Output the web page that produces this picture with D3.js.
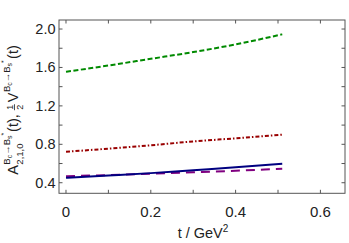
<!DOCTYPE html>
<html>
<head>
<meta charset="utf-8">
<script src="https://cdn.jsdelivr.net/npm/d3@7"></script>
<style>
  body { margin: 0; background: #fff; }
  text { font-family: "Liberation Sans", Arial, sans-serif; fill: #222; }
</style>
</head>
<body>
<div id="chart"></div>
<script>
// values
var tVals = [0, 0.1, 0.2, 0.3, 0.4, 0.51];
var greenVals = [1.555, 1.62, 1.69, 1.76, 1.84, 1.945];
var redVals = [0.722, 0.755, 0.79, 0.83, 0.862, 0.90];
var blueVals = [0.451, 0.475, 0.50, 0.53, 0.56, 0.597];
var purpleVals = [0.468, 0.48, 0.494, 0.509, 0.525, 0.545];
var xTicks = [0, 0.1, 0.2, 0.3, 0.4, 0.5, 0.6];
var yTicks = [0.4, 0.6, 0.8, 1.0, 1.2, 1.4, 1.6, 1.8, 2.0];

var width = 349, height = 243;
var pLeft = 59, pRight = 345, pTop = 20, pBottom = 193.3;

var svg = d3.select("#chart").append("svg")
    .attr("width", width).attr("height", height);

var x = d3.scaleLinear().domain([-0.0165, 0.658]).range([pLeft, pRight]);
var y = d3.scaleLinear().domain([0.29, 2.094]).range([pBottom, pTop]);

var series = [
  { vals: redVals, color: "#990000", dash: "4,2,1.5,2" },
  { vals: greenVals, color: "#008a00", dash: "5,2.5" },
  { vals: purpleVals, color: "#800080", dash: "9,6" },
  { vals: blueVals, color: "#000080", dash: null }
];

var line = d3.line()
    .x(function(d) { return x(d[0]); })
    .y(function(d) { return y(d[1]); })
    .curve(d3.curveMonotoneX);

series.forEach(function(s) {
  svg.append("path")
    .datum(tVals.map(function(t, i) { return [t, s.vals[i]]; }))
    .attr("fill", "none")
    .attr("stroke", s.color)
    .attr("stroke-width", 2)
    .attr("stroke-dasharray", s.dash)
    .attr("d", line);
});

// frame with inward ticks on all sides
var tl = 3.5;
var ax = svg.append("g").attr("stroke", "#555").attr("stroke-width", 1);
ax.append("rect").attr("x", pLeft).attr("y", pTop)
  .attr("width", pRight - pLeft).attr("height", pBottom - pTop).attr("fill", "none");
xTicks.forEach(function(t) {
  ax.append("line").attr("x1", x(t)).attr("x2", x(t)).attr("y1", pBottom).attr("y2", pBottom - tl);
  ax.append("line").attr("x1", x(t)).attr("x2", x(t)).attr("y1", pTop).attr("y2", pTop + tl);
});
yTicks.forEach(function(v) {
  ax.append("line").attr("x1", pLeft).attr("x2", pLeft + tl).attr("y1", y(v)).attr("y2", y(v));
  ax.append("line").attr("x1", pRight).attr("x2", pRight - tl).attr("y1", y(v)).attr("y2", y(v));
});

svg.selectAll(".xl").data([0, 0.2, 0.4, 0.6]).enter().append("text")
  .attr("x", function(d) { return x(d); }).attr("y", 217)
  .attr("text-anchor", "middle").attr("font-size", 15)
  .text(function(d) { return d === 0 ? "0" : d3.format(".1f")(d); });

svg.selectAll(".yl").data([0.4, 0.8, 1.2, 1.6, 2.0]).enter().append("text")
  .attr("x", 55.5).attr("y", function(d) { return y(d) + 5; })
  .attr("text-anchor", "end").attr("font-size", 14.5)
  .text(function(d) { return d3.format(".1f")(d); });

// x label
var xl = svg.append("text").attr("x", 203).attr("y", 238)
  .attr("text-anchor", "middle").attr("font-size", 14.5);
xl.append("tspan").text("t / GeV");
xl.append("tspan").attr("dy", -6).attr("font-size", 10).text("2");

// y label, built piece by piece in a rotated group
var yl = svg.append("g");
var cur = 0;
function put(str, size, dy) {
  var t = yl.append("text").attr("x", cur).attr("y", dy).attr("font-size", size).text(str);
  return t;
}
function supBc(xpos, dy) {
  var t = yl.append("text").attr("x", xpos).attr("y", dy).attr("font-size", 9.5);
  t.append("tspan").text("B");
  t.append("tspan").attr("font-size", 7).attr("dy", 2).text("c");
  t.append("tspan").attr("dy", -2).text("\u2192B");
  t.append("tspan").attr("font-size", 7).attr("dy", 2).text("s");
  t.append("tspan").attr("font-size", 7).attr("dy", -5.5).text("*");
  return t;
}
var a = put("A", 14.5, 0);
cur += a.node().getComputedTextLength() + 0.5;
var sub = put("2,1,0", 9.5, 5);
var sp1 = supBc(cur, -8.5);
cur += Math.max(sub.node().getComputedTextLength(), sp1.node().getBBox().width) + 0.5;
var p1 = put("(t),", 14.5, 0);
cur += p1.node().getComputedTextLength() + 4;
yl.append("text").attr("x", cur + 3).attr("y", -5).attr("font-size", 9)
  .attr("text-anchor", "middle").text("1");
yl.append("line").attr("x1", cur).attr("x2", cur + 6).attr("y1", -3.5).attr("y2", -3.5)
  .attr("stroke", "#222").attr("stroke-width", 0.8);
yl.append("text").attr("x", cur + 3).attr("y", 5).attr("font-size", 9)
  .attr("text-anchor", "middle").text("2");
cur += 8;
var v = put("V", 14.5, 0);
cur += v.node().getComputedTextLength() + 0.5;
var sp2 = supBc(cur, -8.5);
cur += sp2.node().getBBox().width + 1;
var p2 = put("(t)", 14.5, 0);
cur += p2.node().getComputedTextLength();

yl.attr("transform", "translate(18," + (110 + cur / 2) + ") rotate(-90)");
</script>
</body>
</html>
